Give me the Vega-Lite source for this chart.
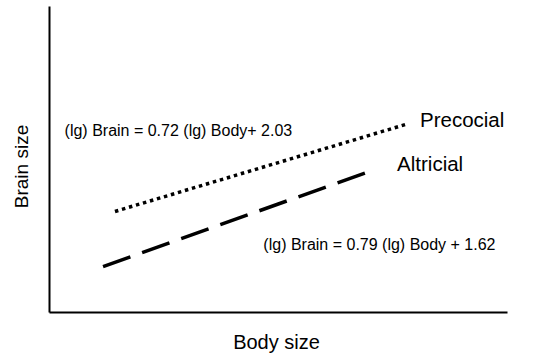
{
  "$schema": "https://vega.github.io/schema/vega-lite/v6.json",
  "width": 458,
  "height": 306,
  "autosize": {"type": "none"},
  "padding": {"left": 49, "top": 6, "right": 36, "bottom": 43},
  "background": "white",
  "config": {"view": {"stroke": null}, "font": "Liberation Sans"},
  "datasets": {
    "lines": [
      {"series": "Precocial", "body": 72, "brain": 115},
      {"series": "Precocial", "body": 391, "brain": 215},
      {"series": "Altricial", "body": 59, "brain": 52},
      {"series": "Altricial", "body": 356, "brain": 163}
    ],
    "labels": [
      {"label": "(lg) Brain = 0.72 (lg) Body+ 2.03", "body": 17, "brain": 207, "size": 16},
      {"label": "(lg) Brain = 0.79 (lg) Body + 1.62", "body": 234, "brain": 77, "size": 16},
      {"label": "Precocial", "body": 405, "brain": 219, "size": 20.5},
      {"label": "Altricial", "body": 380, "brain": 168, "size": 20.5}
    ]
  },
  "layer": [
    {
      "data": {"name": "lines"},
      "transform": [{"filter": "datum.series === 'Precocial'"}],
      "mark": {"type": "line", "color": "black", "strokeWidth": 3.5, "strokeDash": [3.5, 3.8], "strokeCap": "butt"},
      "encoding": {
        "x": {"field": "body", "type": "quantitative", "scale": {"domain": [0, 458]},
          "axis": {"domain": true, "domainColor": "black", "domainWidth": 2, "ticks": false, "labels": false, "grid": false,
            "title": "Body size", "titleFontSize": 20, "titleFontWeight": "normal", "titleColor": "black",
            "titleBaseline": "middle", "titleY": 30, "titleX": 227, "titleAnchor": "middle"}},
        "y": {"field": "brain", "type": "quantitative", "scale": {"domain": [0, 306]},
          "axis": {"domain": true, "domainColor": "black", "domainWidth": 2, "ticks": false, "labels": false, "grid": false,
            "title": "Brain size", "titleFontSize": 19, "titleFontWeight": "normal", "titleColor": "black",
            "titleBaseline": "middle", "titleX": -27.5, "titleY": 160, "titleAngle": -90, "titleAnchor": "middle"}}
      }
    },
    {
      "data": {"name": "lines"},
      "transform": [{"filter": "datum.series === 'Altricial'"}],
      "mark": {"type": "line", "color": "black", "strokeWidth": 3.5, "strokeDash": [29, 12.5], "strokeCap": "butt"},
      "encoding": {
        "x": {"field": "body", "type": "quantitative"},
        "y": {"field": "brain", "type": "quantitative"}
      }
    },
    {
      "data": {"name": "labels"},
      "mark": {"type": "text", "align": "left", "baseline": "middle", "color": "black", "font": "Liberation Sans"},
      "encoding": {
        "x": {"field": "body", "type": "quantitative"},
        "y": {"field": "brain", "type": "quantitative"},
        "text": {"field": "label"},
        "size": {"field": "size", "type": "quantitative", "scale": null}
      }
    }
  ]
}
